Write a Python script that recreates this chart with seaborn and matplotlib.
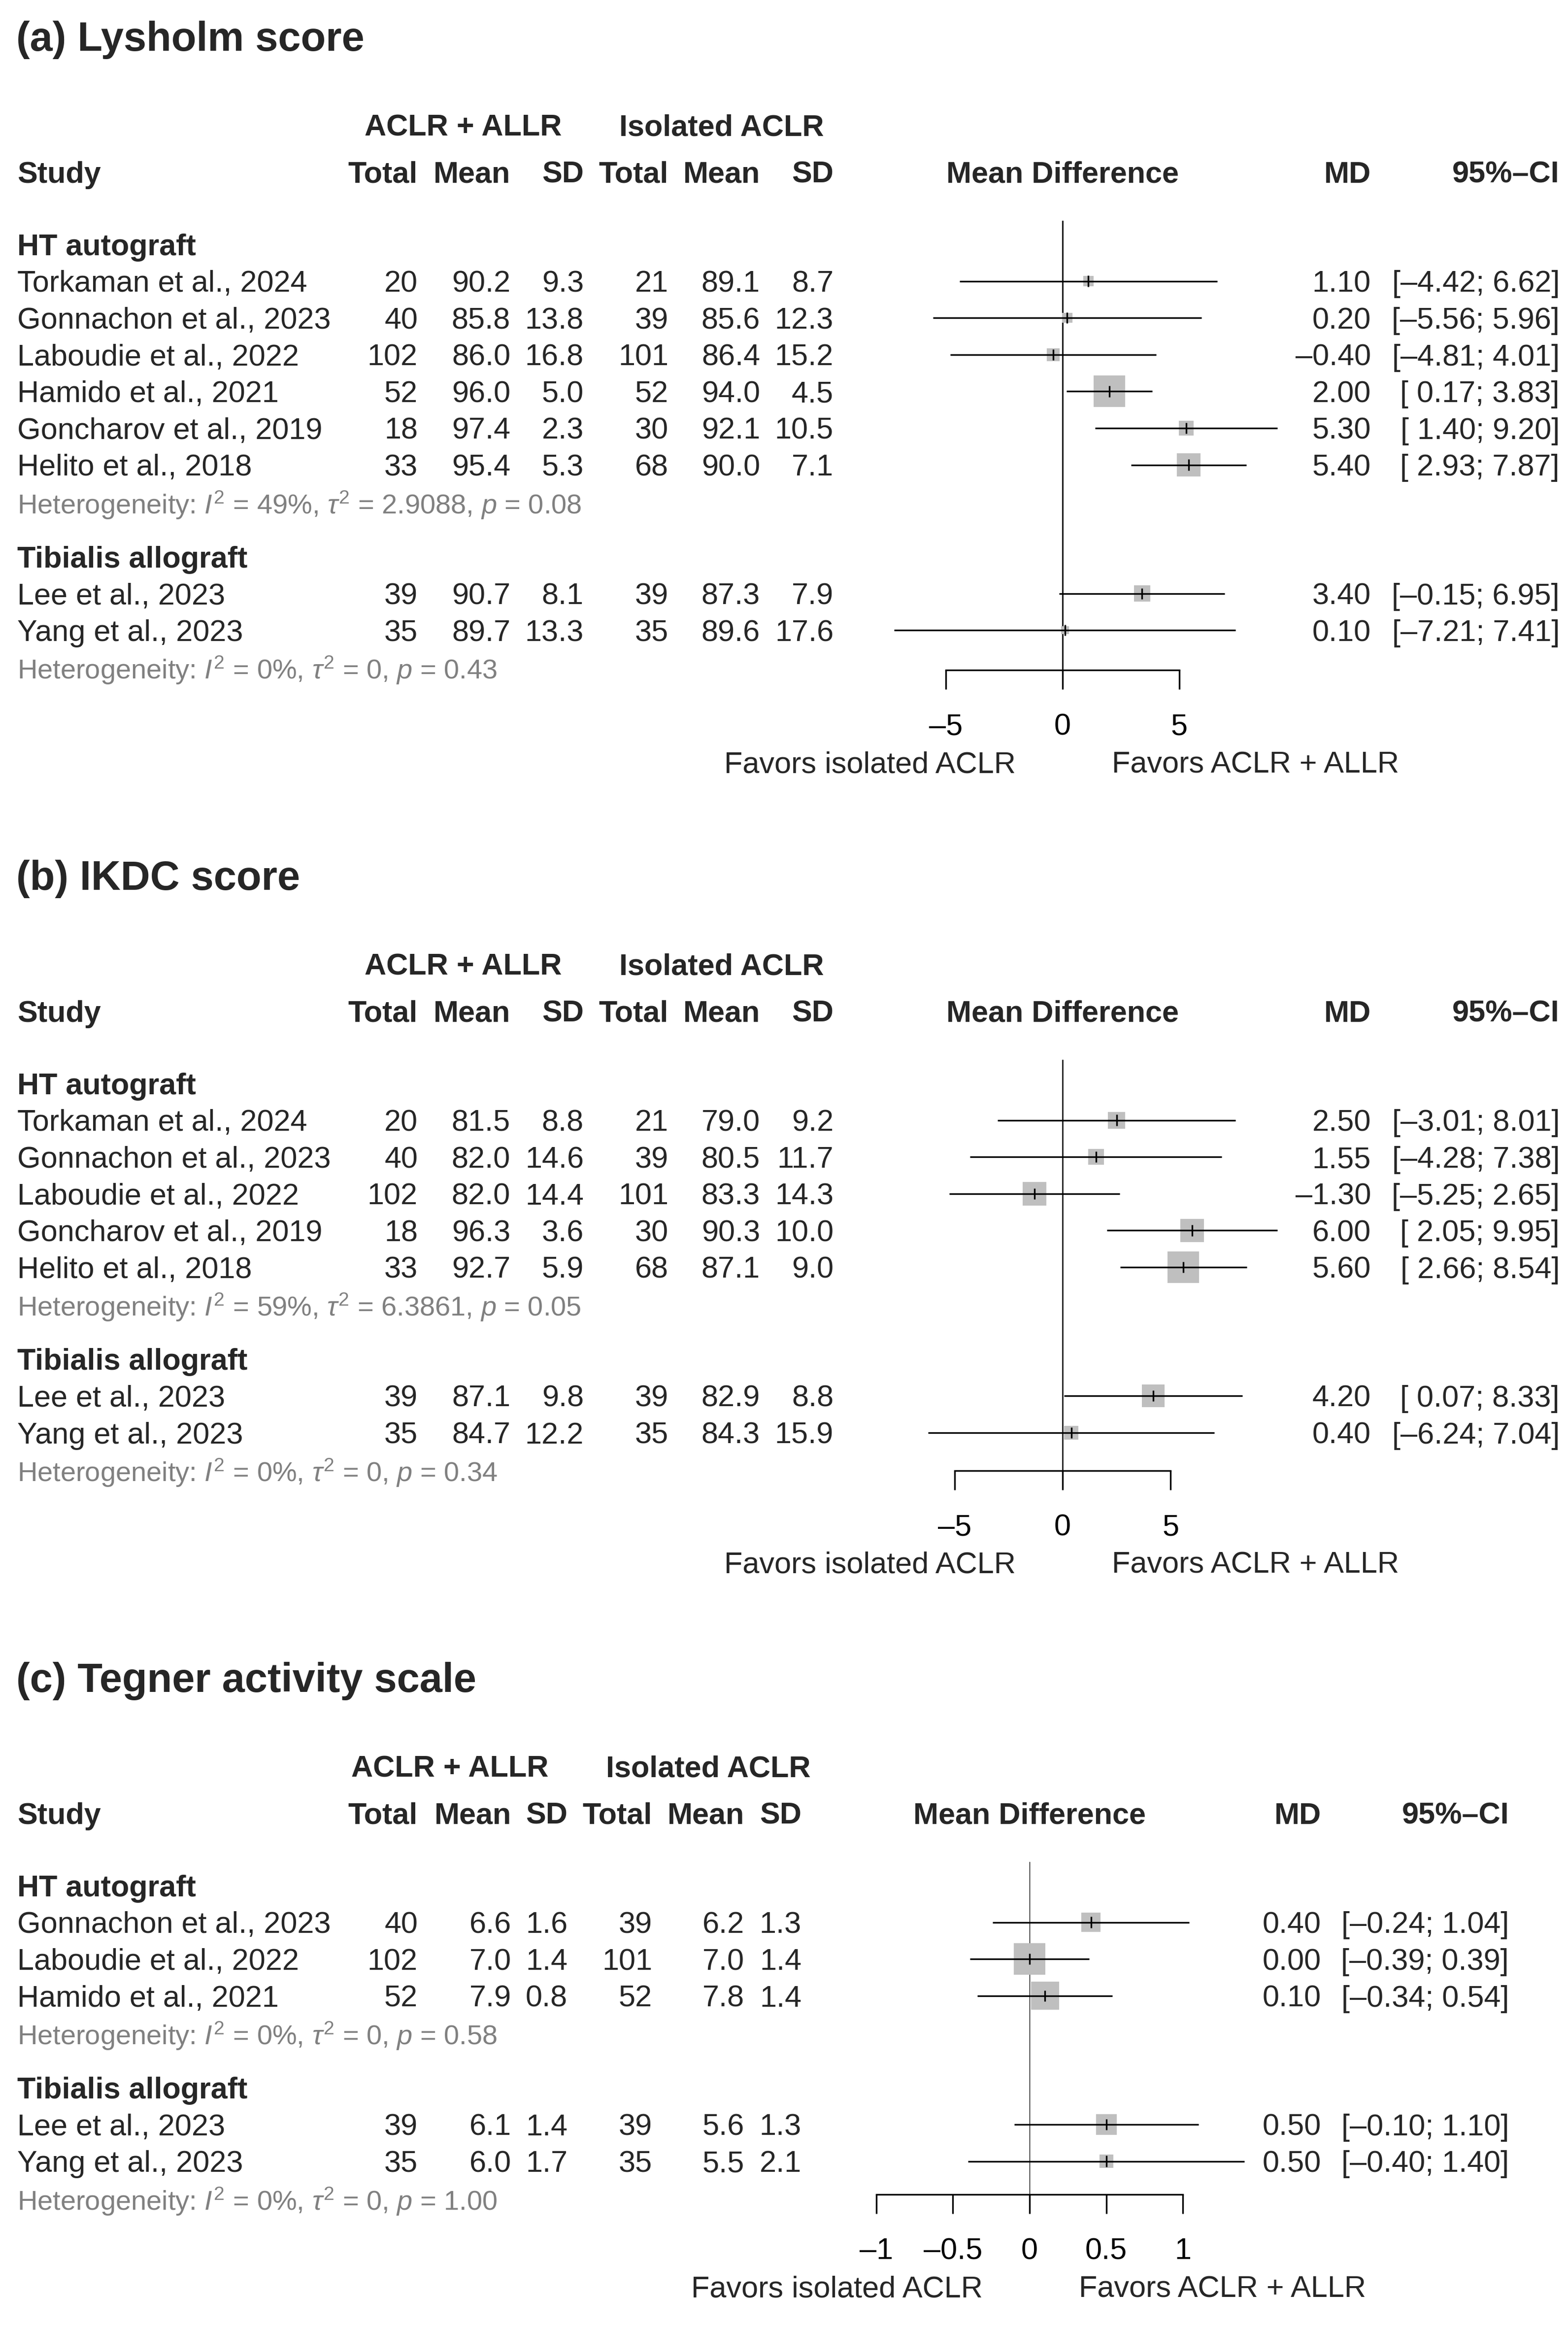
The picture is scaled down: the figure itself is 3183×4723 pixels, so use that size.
import numpy as np
import pandas as pd
import matplotlib
matplotlib.use("Agg")
import matplotlib.pyplot as plt
import matplotlib.transforms as mtransforms
import seaborn as sns

# ---------------- data ----------------
# (a) Lysholm score
lys_study = ["Torkaman et al., 2024", "Gonnachon et al., 2023", "Laboudie et al., 2022",
             "Hamido et al., 2021", "Goncharov et al., 2019", "Helito et al., 2018",
             "Lee et al., 2023", "Yang et al., 2023"]
lys_group = ["HT autograft"] * 6 + ["Tibialis allograft"] * 2
lys_n1 = [20, 40, 102, 52, 18, 33, 39, 35]
lys_mean1 = [90.2, 85.8, 86.0, 96.0, 97.4, 95.4, 90.7, 89.7]
lys_sd1 = [9.3, 13.8, 16.8, 5.0, 2.3, 5.3, 8.1, 13.3]
lys_n2 = [21, 39, 101, 52, 30, 68, 39, 35]
lys_mean2 = [89.1, 85.6, 86.4, 94.0, 92.1, 90.0, 87.3, 89.6]
lys_sd2 = [8.7, 12.3, 15.2, 4.5, 10.5, 7.1, 7.9, 17.6]
lys_md = [1.10, 0.20, -0.40, 2.00, 5.30, 5.40, 3.40, 0.10]
lys_lo = [-4.42, -5.56, -4.81, 0.17, 1.40, 2.93, -0.15, -7.21]
lys_hi = [6.62, 5.96, 4.01, 3.83, 9.20, 7.87, 6.95, 7.41]
lys_i2 = [49, 0]
lys_tau2 = ["2.9088", "0"]
lys_p = [0.08, 0.43]

# (b) IKDC score
ikdc_study = ["Torkaman et al., 2024", "Gonnachon et al., 2023", "Laboudie et al., 2022",
              "Goncharov et al., 2019", "Helito et al., 2018",
              "Lee et al., 2023", "Yang et al., 2023"]
ikdc_group = ["HT autograft"] * 5 + ["Tibialis allograft"] * 2
ikdc_n1 = [20, 40, 102, 18, 33, 39, 35]
ikdc_mean1 = [81.5, 82.0, 82.0, 96.3, 92.7, 87.1, 84.7]
ikdc_sd1 = [8.8, 14.6, 14.4, 3.6, 5.9, 9.8, 12.2]
ikdc_n2 = [21, 39, 101, 30, 68, 39, 35]
ikdc_mean2 = [79.0, 80.5, 83.3, 90.3, 87.1, 82.9, 84.3]
ikdc_sd2 = [9.2, 11.7, 14.3, 10.0, 9.0, 8.8, 15.9]
ikdc_md = [2.50, 1.55, -1.30, 6.00, 5.60, 4.20, 0.40]
ikdc_lo = [-3.01, -4.28, -5.25, 2.05, 2.66, 0.07, -6.24]
ikdc_hi = [8.01, 7.38, 2.65, 9.95, 8.54, 8.33, 7.04]
ikdc_i2 = [59, 0]
ikdc_tau2 = ["6.3861", "0"]
ikdc_p = [0.05, 0.34]

# (c) Tegner activity scale
teg_study = ["Gonnachon et al., 2023", "Laboudie et al., 2022", "Hamido et al., 2021",
             "Lee et al., 2023", "Yang et al., 2023"]
teg_group = ["HT autograft"] * 3 + ["Tibialis allograft"] * 2
teg_n1 = [40, 102, 52, 39, 35]
teg_mean1 = [6.6, 7.0, 7.9, 6.1, 6.0]
teg_sd1 = [1.6, 1.4, 0.8, 1.4, 1.7]
teg_n2 = [39, 101, 52, 39, 35]
teg_mean2 = [6.2, 7.0, 7.8, 5.6, 5.5]
teg_sd2 = [1.3, 1.4, 1.4, 1.3, 2.1]
teg_md = [0.40, 0.00, 0.10, 0.50, 0.50]
teg_lo = [-0.24, -0.39, -0.34, -0.10, -0.40]
teg_hi = [1.04, 0.39, 0.54, 1.10, 1.40]
teg_i2 = [0, 0]
teg_tau2 = ["0", "0"]
teg_p = [0.58, 1.00]

# ---------------- style ----------------
sns.set_theme(style="white")
plt.rcParams["font.family"] = ["Liberation Sans", "DejaVu Sans"]
plt.rcParams["mathtext.fontset"] = "custom"
plt.rcParams["mathtext.rm"] = "Liberation Sans"
plt.rcParams["mathtext.it"] = "Liberation Sans:italic"
plt.rcParams["mathtext.bf"] = "Liberation Sans:bold"

W, H, DPI = 3183, 4723, 100
STEP = 74.6          # px between table rows
HALF = 436           # half width of the forest region, px
BODY = 44
HET = 40.3
TITLE = 59.8
LW = 2.4

fig = plt.figure(figsize=(W / DPI, H / DPI), dpi=DPI)
fig.patch.set_facecolor("white")


def dash(s):
    return s.replace("-", "\u2013")


def make_df(study, group, n1, m1, s1, n2, m2, s2, md, lo, hi):
    df = pd.DataFrame({"study": study, "group": group, "n1": n1, "m1": m1, "s1": s1,
                       "n2": n2, "m2": m2, "s2": s2, "md": md, "lo": lo, "hi": hi})
    se = (df["hi"] - df["lo"]) / (2 * 1.96)
    df["w"] = 1 / se ** 2
    return df


def put(ax, xpx, L, s, size=BODY, ha="right", **kw):
    tr = mtransforms.blended_transform_factory(fig.transFigure, ax.transData)
    off = 0.716 * size * DPI / 72 / 2 / STEP
    ax.text(xpx / W, L + off, s, transform=tr, ha=ha, va="baseline",
            fontsize=size, **kw)


def draw_panel(title, df, i2, tau2, pval, lay):
    top = lay["top"]
    line, grp_line, het_line = [], [], []
    L = 0.0
    for g in df["group"].unique():
        k = int((df["group"] == g).sum())
        grp_line.append(L)
        line += list(L + 1 + np.arange(k))
        het_line.append(L + k + 1)
        L += k + 2.5
    df = df.assign(line=line)
    axis_L = het_line[-1] + lay["axis_off"]
    top_L = -0.65
    xmax = max(df["lo"].abs().max(), df["hi"].abs().max())

    ax = fig.add_axes([(lay["zero"] - HALF) / W, 1 - (top + axis_L * STEP) / H,
                       2 * HALF / W, (axis_L - top_L) * STEP / H])
    ax.set_facecolor("none")

    # forest marks
    wmax = df["w"].max()
    smax = (64 * 72 / DPI) ** 2
    sns.scatterplot(data=df, x="md", y="line", size="w", sizes=(0, smax),
                    size_norm=(0, wmax), marker="s", color="#bfbfbf",
                    linewidth=0, legend=False, ax=ax, clip_on=False, zorder=2)
    ax.hlines(df["line"], df["lo"], df["hi"], color="black", lw=LW, zorder=3,
              clip_on=False)
    ax.vlines(df["md"], df["line"] - 0.15, df["line"] + 0.15, color="black",
              lw=LW, zorder=4, clip_on=False)
    ax.axvline(0, color="black", lw=lay["zero_lw"], zorder=1)

    ax.set_xlim(-xmax, xmax)
    ax.set_ylim(axis_L, top_L)
    ax.set_xlabel("")
    ax.set_ylabel("")
    ax.set_yticks([])
    ticks = lay["ticks"]
    ax.set_xticks(ticks, labels=[dash(f"{t:g}") for t in ticks])
    ax.tick_params(axis="x", bottom=True, direction="out", length=28, width=LW,
                   pad=35, labelsize=BODY, color="black", labelcolor="black")
    for side in ["top", "right", "left"]:
        ax.spines[side].set_visible(False)
    ax.spines["bottom"].set_color("black")
    ax.spines["bottom"].set_linewidth(LW)
    ax.spines["bottom"].set_bounds(ticks[0], ticks[-1])

    # title and headers
    put(ax, 33, -5.67, title, size=TITLE, ha="left", fontweight="bold")
    put(ax, lay["grp"][0], -3.25, "ACLR + ALLR", ha="center", fontweight="bold")
    put(ax, lay["grp"][1], -3.25, "Isolated ACLR", ha="center", fontweight="bold")
    put(ax, 35, -1.97, "Study", ha="left", fontweight="bold")
    for x, s in zip(lay["cols"], ["Total", "Mean", "SD", "Total", "Mean", "SD"]):
        put(ax, x, -1.97, s, fontweight="bold")
    put(ax, lay["zero"], -1.97, "Mean Difference", ha="center", fontweight="bold")
    put(ax, lay["md"], -1.97, "MD", fontweight="bold")
    put(ax, lay["ci"], -1.97, "95%\u2013CI", fontweight="bold")

    # subgroup labels and heterogeneity
    for j, g in enumerate(df["group"].unique()):
        put(ax, 35, grp_line[j], g, ha="left", fontweight="bold")
        het = (r"Heterogeneity: $I^2$ = " + f"{i2[j]}%, " + r"$\tau^2$ = "
               + f"{tau2[j]}, " + r"$p$ = " + f"{pval[j]:.2f}")
        put(ax, 35, het_line[j] + 0.06, het, size=HET, ha="left", color="#808080")

    # study rows
    c = lay["cols"]
    for _, r in df.iterrows():
        L = r["line"]
        put(ax, 35, L, r["study"], ha="left")
        put(ax, c[0], L, f"{int(r['n1'])}")
        put(ax, c[1], L, f"{r['m1']:.1f}")
        put(ax, c[2], L, f"{r['s1']:.1f}")
        put(ax, c[3], L, f"{int(r['n2'])}")
        put(ax, c[4], L, f"{r['m2']:.1f}")
        put(ax, c[5], L, f"{r['s2']:.1f}")
        put(ax, lay["md"], L, dash(f"{r['md']:.2f}"))
        put(ax, lay["ci"], L, dash(f"[{r['lo']:5.2f}; {r['hi']:.2f}]"))

    put(ax, lay["zero"] - 95, axis_L + 2.5, "Favors isolated ACLR", ha="right")
    put(ax, lay["zero"] + 100, axis_L + 2.5, "Favors ACLR + ALLR", ha="left")


cols_ab = [848, 1036, 1185, 1357, 1543, 1692]
lay_a = dict(top=496, zero=2157, cols=cols_ab, grp=[940, 1465], md=2783, ci=3166,
             ticks=[-5, 0, 5], axis_off=0.08, zero_lw=2.0)
lay_b = dict(top=2199, zero=2157, cols=cols_ab, grp=[940, 1465], md=2783, ci=3166,
             ticks=[-5, 0, 5], axis_off=0.03, zero_lw=1.8)
lay_c = dict(top=3827, zero=2090, cols=[848, 1038, 1152, 1324, 1511, 1627],
             grp=[913, 1438], md=2682, ci=3063, ticks=[-1, -0.5, 0, 0.5, 1],
             axis_off=-0.1, zero_lw=1.0)

df_a = make_df(lys_study, lys_group, lys_n1, lys_mean1, lys_sd1, lys_n2, lys_mean2,
               lys_sd2, lys_md, lys_lo, lys_hi)
df_b = make_df(ikdc_study, ikdc_group, ikdc_n1, ikdc_mean1, ikdc_sd1, ikdc_n2,
               ikdc_mean2, ikdc_sd2, ikdc_md, ikdc_lo, ikdc_hi)
df_c = make_df(teg_study, teg_group, teg_n1, teg_mean1, teg_sd1, teg_n2, teg_mean2,
               teg_sd2, teg_md, teg_lo, teg_hi)

draw_panel("(a) Lysholm score", df_a, lys_i2, lys_tau2, lys_p, lay_a)
draw_panel("(b) IKDC score", df_b, ikdc_i2, ikdc_tau2, ikdc_p, lay_b)
draw_panel("(c) Tegner activity scale", df_c, teg_i2, teg_tau2, teg_p, lay_c)

fig.savefig("out.png", dpi=DPI, facecolor="white")
